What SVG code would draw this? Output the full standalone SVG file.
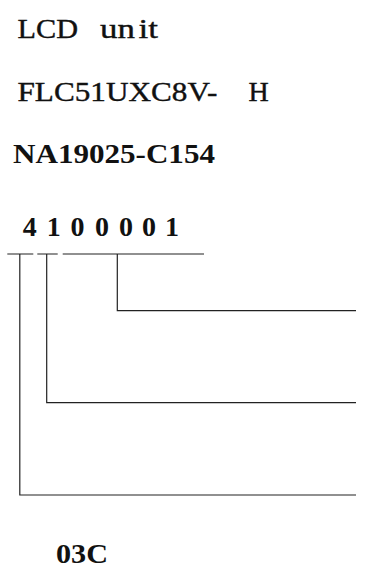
<svg xmlns="http://www.w3.org/2000/svg" width="366" height="585" viewBox="0 0 366 585">
<style>
text{font-family:"Liberation Serif","Times New Roman",serif;fill:#111;font-size:28px}
.r{stroke:#111;stroke-width:0.4}
.b{font-weight:bold}
.ln{fill:none;stroke:#222;stroke-width:1.2}
</style>
<rect width="366" height="585" fill="#fff"/>
<g id="title">
<text class="r" x="17.5" y="37.5" textLength="60.5" lengthAdjust="spacingAndGlyphs">LCD</text>
<text class="r" x="100" y="37.5" textLength="58" lengthAdjust="spacingAndGlyphs">un<tspan dx="3">it</tspan></text>
</g>
<g id="model">
<text class="r" x="17.5" y="100.5" textLength="200" lengthAdjust="spacingAndGlyphs">FLC51UXC8V-</text>
<text class="r" x="248.5" y="100.5">H</text>
</g>
<g id="partno">
<text class="b" x="13" y="162.5" textLength="202" lengthAdjust="spacingAndGlyphs">NA19025-C154</text>
</g>
<g id="code">
<text class="b" x="29.7 53.8 77.5 102 126 149 172" y="236" text-anchor="middle">4100001</text>
</g>
<g id="rev">
<text class="b" x="56" y="563" textLength="52" lengthAdjust="spacingAndGlyphs">03C</text>
</g>
<g id="connectors">
<path class="ln" d="M7.3 254H33.3M37.3 254H57.7M62.7 254H204"/>
<path class="ln" d="M117.3 254V310.7H356"/>
<path class="ln" d="M46.7 254V402.7H356"/>
<path class="ln" d="M19.8 254V495H356"/>
</g>
</svg>
